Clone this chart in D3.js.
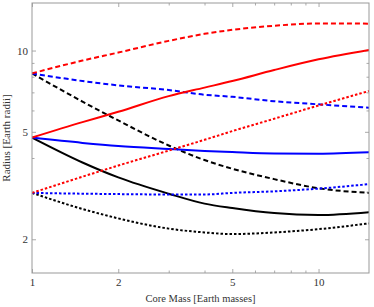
<!DOCTYPE html>
<html>
<head>
<meta charset="utf-8">
<script src="https://cdn.jsdelivr.net/npm/d3@7"></script>
<style>
    body { margin: 0; background: #fff; }
    svg text { font-family: "Liberation Serif", "DejaVu Serif", serif; fill: #333; }
</style>
</head>
<body>
<div id="chart"></div>
<script>
// core mass samples (Earth masses)
const coreMass = [1, 1.5, 2, 3, 4, 5, 7, 10, 15];

// radius curves (Earth radii)
const redDashed = [8.23, 9.18, 9.83, 10.86, 11.53, 11.93, 12.35, 12.6, 12.58];
const redSolid = [4.76, 5.43, 5.93, 6.78, 7.29, 7.71, 8.47, 9.28, 10.05];
const redDotted = [2.97, 3.41, 3.75, 4.26, 4.67, 5.03, 5.59, 6.26, 7.08];
const blueDashed = [8.23, 7.71, 7.43, 7.14, 6.86, 6.74, 6.49, 6.32, 6.14];
const blueSolid = [4.76, 4.55, 4.43, 4.32, 4.25, 4.21, 4.16, 4.15, 4.20];
const blueDotted = [2.97, 2.95, 2.94, 2.93, 2.93, 2.97, 3.01, 3.08, 3.20];
const blackDashed = [8.23, 6.47, 5.51, 4.45, 3.93, 3.65, 3.34, 3.09, 2.97];
const blackSolid = [4.76, 3.85, 3.39, 2.95, 2.71, 2.61, 2.50, 2.46, 2.52];
const blackDotted = [2.97, 2.59, 2.39, 2.19, 2.12, 2.09, 2.12, 2.18, 2.29];

const xMajor = [1, 2, 5, 10];
const xMinor = [3, 4, 6, 7, 8, 9];
const yMajor = [2, 5, 10];
const yMinor = [3, 4, 6, 7, 8, 9];

const series = [
    { values: blackDotted, color: '#000', dash: '2.5,2' },
    { values: blackSolid, color: '#000', dash: null },
    { values: blackDashed, color: '#000', dash: '5,3' },
    { values: blueDotted, color: '#0000ff', dash: '2.5,2' },
    { values: blueSolid, color: '#0000ff', dash: null },
    { values: blueDashed, color: '#0000ff', dash: '5,3' },
    { values: redDotted, color: '#ff0000', dash: '2.5,2' },
    { values: redSolid, color: '#ff0000', dash: null },
    { values: redDashed, color: '#ff0000', dash: '5,3' }
];

const width = 374, height = 307;
const margin = { top: 3, right: 5, bottom: 34, left: 32 };
const w = width - margin.left - margin.right;
const h = height - margin.top - margin.bottom;

const svg = d3.select('#chart')
    .append('svg')
    .attr('width', width)
    .attr('height', height);

const g = svg.append('g')
    .attr('transform', `translate(${margin.left},${margin.top})`);

const x = d3.scaleLog().domain([1, 15]).range([0, w]);
const y = d3.scaleLog().domain([1.5, 15]).range([h, 0]);

g.append('clipPath')
    .attr('id', 'clip')
    .append('rect')
    .attr('width', w)
    .attr('height', h);

// ticks on all four sides, pointing inwards
function ticks(axisFn, scale, values, size, transform, labels) {
    const ax = g.append('g')
        .attr('transform', transform)
        .call(axisFn(scale).tickValues(values).tickSize(-size).tickFormat(labels ? d3.format('d') : ''));
    ax.select('.domain').remove();
    ax.selectAll('line').attr('stroke', '#aaa');
    return ax;
}

const bottomAx = ticks(d3.axisBottom, x, xMajor, 4, `translate(0,${h})`, true);
bottomAx.selectAll('text').attr('dy', '0.55em').attr('y', 7).style('font-size', '11px');
ticks(d3.axisBottom, x, xMinor, 2.5, `translate(0,${h})`, false);
ticks(d3.axisTop, x, xMajor, 4, 'translate(0,0)', false);
ticks(d3.axisTop, x, xMinor, 2.5, 'translate(0,0)', false);

const leftAx = ticks(d3.axisLeft, y, yMajor, 4, 'translate(0,0)', true);
leftAx.selectAll('text').attr('x', -4).style('font-size', '11px');
ticks(d3.axisLeft, y, yMinor, 2.5, 'translate(0,0)', false);
ticks(d3.axisRight, y, yMajor, 4, `translate(${w},0)`, false);
ticks(d3.axisRight, y, yMinor, 2.5, `translate(${w},0)`, false);

g.selectAll('.tick text').attr('fill', '#333');

const line = d3.line()
    .x(d => x(d[0]))
    .y(d => y(d[1]))
    .curve(d3.curveMonotoneX);

g.append('g')
    .attr('clip-path', 'url(#clip)')
    .selectAll('path')
    .data(series)
    .enter()
    .append('path')
    .attr('d', s => line(d3.zip(coreMass, s.values)))
    .attr('fill', 'none')
    .attr('stroke', s => s.color)
    .attr('stroke-width', 2)
    .attr('stroke-dasharray', s => s.dash);

// frame
g.append('rect')
    .attr('width', w)
    .attr('height', h)
    .attr('fill', 'none')
    .attr('stroke', '#999')
    .attr('stroke-width', 1);

svg.append('text')
    .attr('x', margin.left + w / 2)
    .attr('y', 302)
    .attr('text-anchor', 'middle')
    .style('font-size', '10.5px')
    .text('Core Mass [Earth masses]');

svg.append('text')
    .attr('transform', `translate(10,${margin.top + h / 2}) rotate(-90)`)
    .attr('text-anchor', 'middle')
    .style('font-size', '11px')
    .text('Radius [Earth radii]');
</script>
</body>
</html>
